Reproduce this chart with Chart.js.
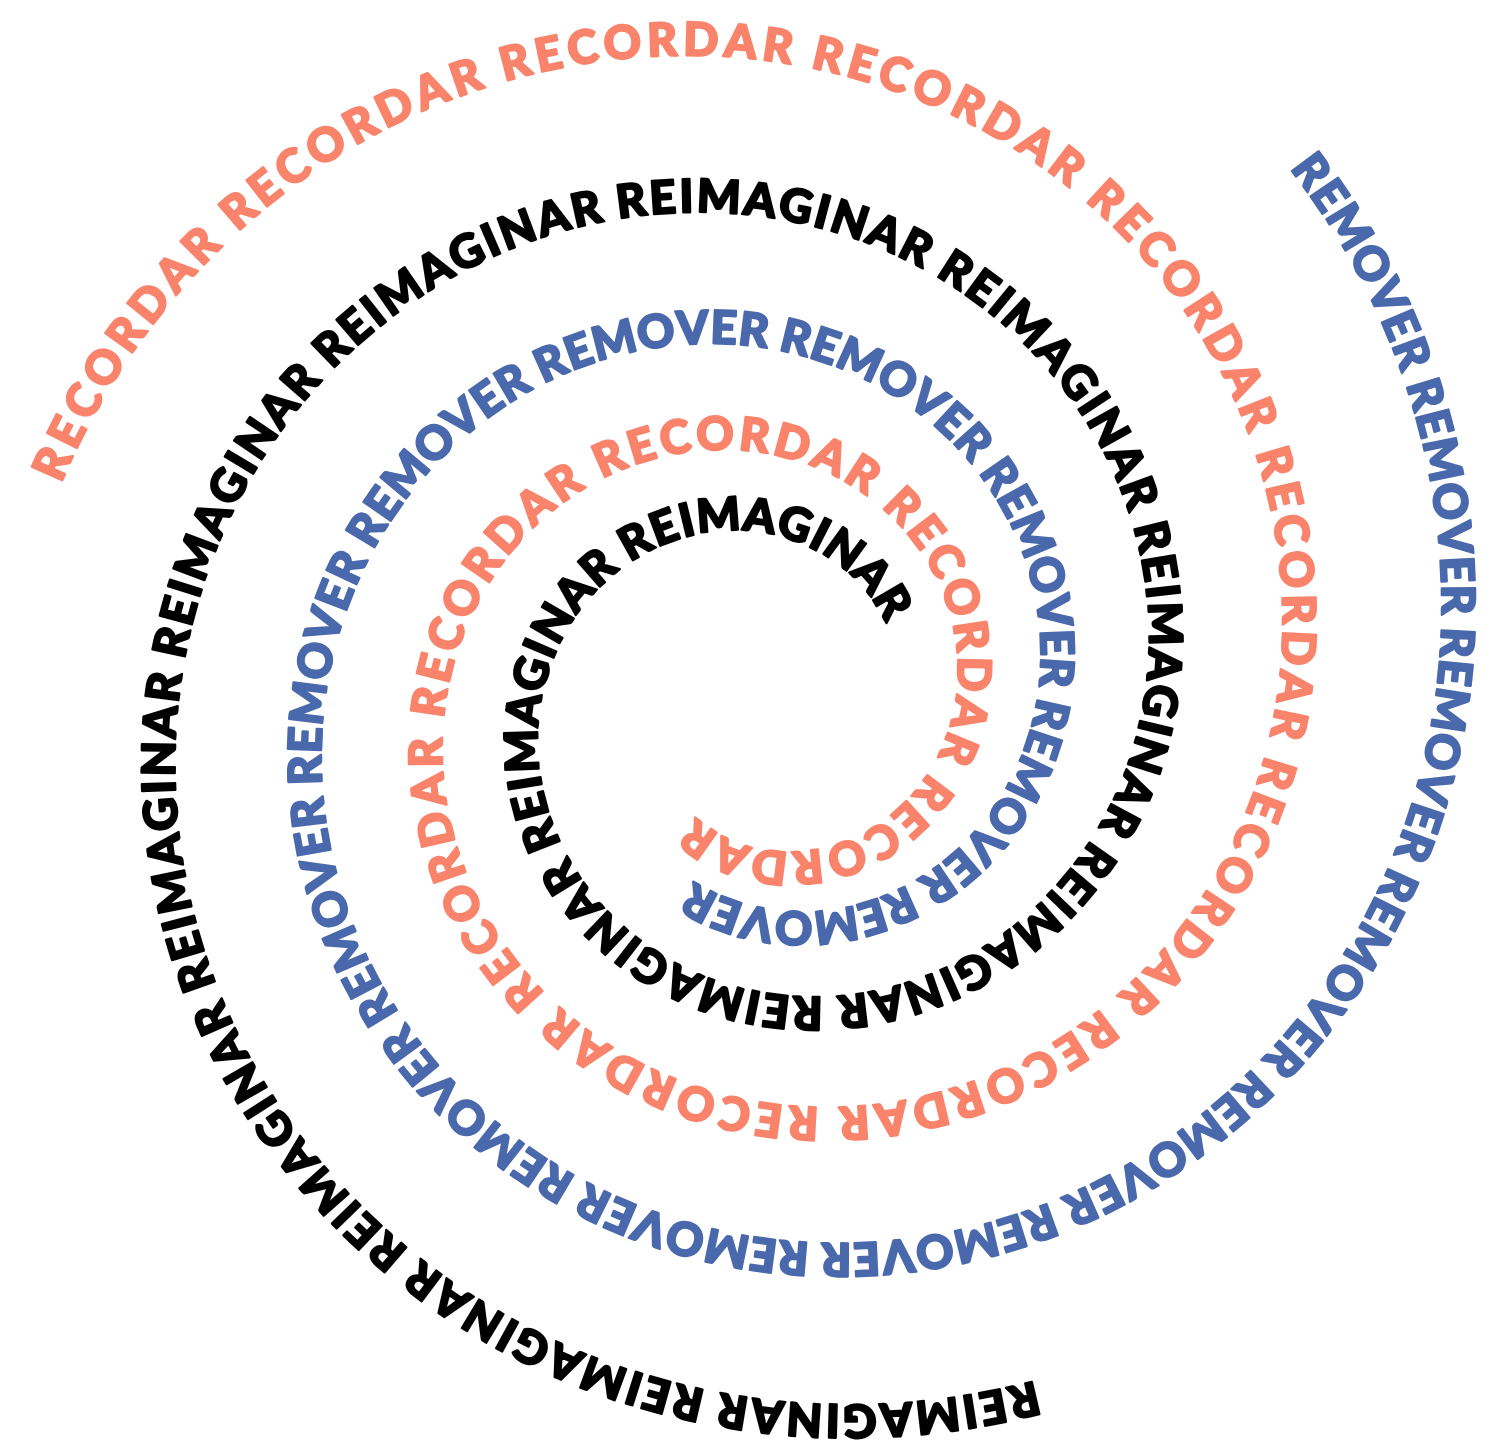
<!DOCTYPE html>
<html>
<head>
<meta charset="utf-8">
<script src="https://cdn.jsdelivr.net/npm/chart.js@4.4.0/dist/chart.umd.min.js"></script>
<style>
html,body{margin:0;padding:0;background:#ffffff;}
canvas{display:block;}
</style>
</head>
<body>
<canvas id="c" width="1493" height="1449"></canvas>
<script>
// ---- data ----
const words = ['RECORDAR', 'REMOVER', 'REIMAGINAR'];
const wordRepeats = [14, 16, 13];
const wordColors = ['#F9846B', '#4A69AC', '#000000'];

// ---- layout (spiral geometry, canvas pixels / degrees) ----
const W = 1493, H = 1449;
const spiral = { cx: 767, cy0: 686, cyDrift: 0.034, a: 527.6, b: -109.5, c: 7.19 };
const armOffset = [0, 120, 240];
const armStart = [-162.7, -163.4, -169.8];
const armEnd = [477.7, 348.8, 440.3];
const FONT_SIZE = 46;
const FONT = '900 ' + FONT_SIZE + 'px Lato';
const STROKE = 2.2;

function spiralPoint(arm, thetaDeg) {
  const u = thetaDeg / 90;
  const r = spiral.a + spiral.b * u + spiral.c * u * u;
  const cy = spiral.cy0 + spiral.cyDrift * (thetaDeg + 160);
  const phi = (thetaDeg + armOffset[arm]) * Math.PI / 180;
  return { x: spiral.cx + r * Math.cos(phi), y: cy + r * Math.sin(phi) };
}

function buildArm(arm, ctx) {
  const text = Array(wordRepeats[arm]).fill(words[arm]).join(' ');
  ctx.font = FONT;
  const chars = [...text];
  const widths = chars.map(ch => ctx.measureText(ch).width + (ch === ' ' ? 0 : STROKE));
  const step = 0.05;
  const table = [[armStart[arm], 0]];
  let s = 0, prev = spiralPoint(arm, armStart[arm]);
  for (let t = armStart[arm] + step; t <= armEnd[arm] + 1e-9; t += step) {
    const p = spiralPoint(arm, t);
    s += Math.hypot(p.x - prev.x, p.y - prev.y);
    table.push([t, s]);
    prev = p;
  }
  const L = s;
  let inner = 0;
  for (let i = 0; i < chars.length - 1; i++) inner += widths[i] / 2 + widths[i + 1] / 2;
  const gap = (L - inner) / (chars.length - 1);
  const pts = [];
  let pos = 0, j = 0;
  for (let i = 0; i < chars.length; i++) {
    if (i > 0) pos += widths[i - 1] / 2 + gap + widths[i] / 2;
    while (j < table.length - 2 && table[j + 1][1] < pos) j++;
    const t0 = table[j][0], s0 = table[j][1], t1 = table[j + 1][0], s1 = table[j + 1][1];
    const t = t0 + (t1 - t0) * (s1 > s0 ? (pos - s0) / (s1 - s0) : 0);
    if (chars[i] === ' ') continue;
    const p = spiralPoint(arm, t);
    const q = spiralPoint(arm, t + 0.5);
    pts.push({ x: p.x, y: p.y, tx: q.x, ty: q.y, ch: chars[i] });
  }
  return pts;
}

const spiralTextPlugin = {
  id: 'spiralText',
  afterDatasetsDraw(chart) {
    const ctx = chart.ctx;
    const xs = chart.scales.x, ys = chart.scales.y;
    ctx.save();
    ctx.font = FONT;
    const capH = ctx.measureText('H').actualBoundingBoxAscent || FONT_SIZE * 0.72;
    ctx.restore();
    chart.data.datasets.forEach((ds, di) => {
      const meta = chart.getDatasetMeta(di);
      ctx.save();
      ctx.font = FONT;
      ctx.fillStyle = ds.textColor;
      ctx.strokeStyle = ds.textColor;
      ctx.lineWidth = STROKE;
      ctx.lineJoin = 'round';
      ctx.textAlign = 'center';
      ctx.textBaseline = 'alphabetic';
      meta.data.forEach((el, i) => {
        const d = ds.data[i];
        const ang = Math.atan2(ys.getPixelForValue(d.ty) - el.y, xs.getPixelForValue(d.tx) - el.x);
        ctx.save();
        ctx.translate(el.x, el.y);
        ctx.rotate(ang);
        ctx.fillText(d.ch, 0, capH / 2);
        ctx.strokeText(d.ch, 0, capH / 2);
        ctx.restore();
      });
      ctx.restore();
    });
  }
};

function init() {
  const canvas = document.getElementById('c');
  const mctx = document.createElement('canvas').getContext('2d');
  const datasets = words.map((w, i) => ({
    label: w,
    data: buildArm(i, mctx),
    textColor: wordColors[i],
    pointRadius: 0,
    pointHoverRadius: 0,
    showLine: false
  }));
  new Chart(canvas, {
    type: 'scatter',
    data: { datasets },
    options: {
      responsive: false,
      animation: false,
      events: [],
      layout: { padding: 0 },
      plugins: { legend: { display: false }, tooltip: { enabled: false } },
      scales: {
        x: { type: 'linear', min: 0, max: W, display: false },
        y: { type: 'linear', min: 0, max: H, reverse: true, display: false }
      }
    },
    plugins: [spiralTextPlugin]
  });
}

if (document.fonts && document.fonts.load) {
  document.fonts.load(FONT).then(init, init);
} else {
  init();
}
</script>
</body>
</html>
